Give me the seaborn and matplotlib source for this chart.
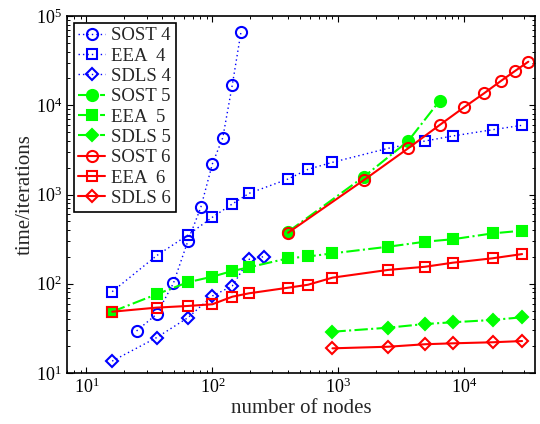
import numpy as np
import pandas as pd
import matplotlib
matplotlib.use("Agg")
import matplotlib.pyplot as plt
import seaborn as sns

# ---- data ----
nodes_sost4 = [25, 36, 49, 64, 81, 100, 121, 144, 169]
sost4 = [29.6, 45.5, 101, 303, 719, 2197, 4330, 16860, 66700]

nodes_eea = [16, 36, 64, 100, 144, 196, 400, 576, 900, 2500, 4900, 8100, 16900, 28900]
eea4 = [81.5, 206, 352, 556, 783, 1031, 1492, 1916, 2294, 3296, 3976, 4523, 5321, 5962]

nodes_sdls4 = [16, 36, 64, 100, 144, 196, 256]
sdls4 = [13.6, 24.9, 41.7, 72.9, 94.4, 188, 201]

nodes_sost5 = [400, 1600, 3600, 6400]
sost5 = [383, 1583, 3976, 11250]

eea5 = [48.6, 76.2, 104, 120, 139, 153, 193, 202, 219, 260, 296, 315, 367, 393]

nodes_sdls = [900, 2500, 4900, 8100, 16900, 28900]
sdls5 = [29.0, 32.2, 35.4, 37.0, 39.3, 42.1]

nodes_sost6 = [400, 1600, 3600, 6400, 10000, 14400, 19600, 25600, 32400]
sost6 = [373, 1453, 3296, 6010, 9490, 13600, 18700, 24400, 30760]

eea6 = [48.6, 54, 56.4, 58.9, 71.6, 78.2, 90.3, 97.5, 117, 143, 155, 172, 193, 215]

sdls6 = [18.9, 19.7, 21.0, 21.5, 22.1, 22.8]

labels = ["SOST 4", "EEA  4", "SDLS 4", "SOST 5", "EEA  5", "SDLS 5",
          "SOST 6", "EEA  6", "SDLS 6"]

series = [
    (nodes_sost4, sost4), (nodes_eea, eea4), (nodes_sdls4, sdls4),
    (nodes_sost5, sost5), (nodes_eea, eea5), (nodes_sdls, sdls5),
    (nodes_sost6, sost6), (nodes_eea, eea6), (nodes_sdls, sdls6),
]

# ---- style ----
sns.set_style("ticks")
plt.rcParams.update({
    "font.family": ["Liberation Serif", "DejaVu Serif"],
    "mathtext.fontset": "stix",
    "xtick.direction": "in", "ytick.direction": "in",
    "xtick.top": True, "ytick.right": True,
    "xtick.minor.visible": True, "ytick.minor.visible": True,
    "xtick.major.size": 4.5, "ytick.major.size": 4.5,
    "xtick.minor.size": 2.5, "ytick.minor.size": 2.5,
    "xtick.major.width": 0.8, "ytick.major.width": 0.8,
    "xtick.minor.width": 0.7, "ytick.minor.width": 0.7,
    "axes.linewidth": 1.2,
    "xtick.color": "black", "ytick.color": "black",
    "axes.edgecolor": "black",
})

fig = plt.figure(figsize=(5.4, 4.24), dpi=100)
ax = fig.add_axes([67/540, 1-373/424, (535-67)/540, (373-16)/424])

colors = ["#0000ff"] * 3 + ["#00ff00"] * 3 + ["#ff0000"] * 3
dotted = (0, (1, 2.2))
lstyles = [dotted] * 3 + ["-."] * 3 + ["-"] * 3
markers = ["o", "s", "D"] * 3
msizes = {"o": 8, "s": 6.5, "D": 6.2}
filled = [False] * 3 + [True] * 3 + [False] * 3
lws = [1.0] * 3 + [1.5] * 3 + [1.5] * 3

for (xs, ys), lab, c, ls, m, f, lw in zip(series, labels, colors, lstyles, markers, filled, lws):
    df = pd.DataFrame({"nodes": xs, "val": ys})
    sns.lineplot(data=df, x="nodes", y="val", ax=ax, estimator=None,
                 color=c, linestyle=ls, linewidth=lw, marker=m,
                 markersize=msizes[m], markeredgecolor=c,
                 markerfacecolor=(c if f else "none"), markeredgewidth=1.5,
                 label=lab, legend=False)

ax.set_xscale("log")
ax.set_yscale("log")
ax.set_xlim(7, 36600)
ax.set_ylim(10, 1e5)
ax.tick_params(labelsize=13)
ax.set_xlabel("number of nodes", fontsize=15, labelpad=1)
ax.set_ylabel("time/iterations", fontsize=15, labelpad=1)

leg = ax.legend(loc="upper left", fontsize=13.5, frameon=True, fancybox=False,
                framealpha=1, edgecolor="black", labelspacing=0.17,
                handletextpad=0.3, borderpad=0.25, handlelength=1.45,
                borderaxespad=0.35)
leg.get_frame().set_linewidth(1.2)

fig.savefig("out.png", dpi=100)
